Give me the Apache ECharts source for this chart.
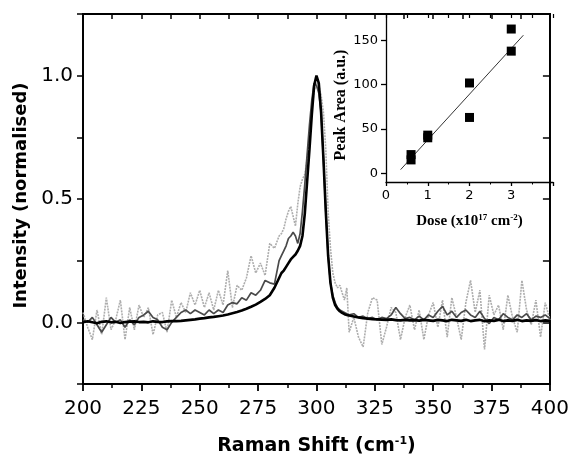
<!DOCTYPE html>
<html>
<head>
<meta charset="utf-8">
<script src="https://cdn.jsdelivr.net/npm/echarts@6/dist/echarts.min.js"></script>
<style>
  html, body { margin: 0; padding: 0; background: #fff; }
  #chart { width: 572px; height: 464px; }
</style>
</head>
<body>
<div id="chart"></div>
<script>
// Raman shift positions (cm-1): coarse steps on the baseline, 1 cm-1 steps across the peak
var shift = [
  200, 202, 204, 206, 208, 210, 212, 214, 216, 218, 220, 222, 224, 226, 228, 230, 232, 234, 236, 238,
  240, 242, 244, 246, 248, 250, 252, 254, 256, 258, 260, 262, 264, 266, 268, 270, 272, 274, 276, 278,
  280, 282, 284,
  285, 286, 287, 288, 289, 290, 291, 292, 293, 294, 295, 296, 297, 298, 299, 300, 301, 302, 303, 304,
  305, 306, 307, 308, 309, 310, 311, 312, 313,
  314, 316, 318, 320, 322, 324, 326, 328, 330, 332, 334, 336, 338, 340, 342, 344, 346, 348, 350, 352,
  354, 356, 358, 360, 362, 364, 366, 368, 370, 372, 374, 376, 378, 380, 382, 384, 386, 388, 390, 392,
  394, 396, 398, 400
]

// black thick spectrum
var intensityBlack = [
  0.000, 0.004, 0.000, -0.004, 0.002, 0.004, 0.000, 0.002, -0.003, 0.001, 0.003, 0.004, 0.001, 0.002, 0.000, 0.004, 0.002, 0.001, 0.004, 0.005,
  0.005, 0.006, 0.008, 0.010, 0.012, 0.015, 0.017, 0.020, 0.022, 0.025, 0.028, 0.032, 0.037, 0.042, 0.048, 0.055, 0.063, 0.072, 0.083, 0.095,
  0.110, 0.140, 0.180,
  0.200, 0.210, 0.225, 0.240, 0.255, 0.265, 0.275, 0.290, 0.310, 0.350, 0.440, 0.570, 0.700, 0.840, 0.960, 1.000, 0.970, 0.850, 0.660, 0.450,
  0.270, 0.160, 0.100, 0.070, 0.055, 0.045, 0.038, 0.033, 0.030,
  0.028, 0.024, 0.020, 0.017, 0.015, 0.013, 0.012, 0.011, 0.010, 0.012, 0.009, 0.008, 0.010, 0.008, 0.009, 0.007, 0.010, 0.008, 0.006, 0.010,
  0.008, 0.005, 0.010, 0.008, 0.006, 0.010, 0.005, 0.008, 0.010, 0.004, 0.008, 0.006, 0.010, 0.005, 0.008, 0.006, 0.010, 0.005, 0.008, 0.006,
  0.009, 0.005, 0.008, 0.006
]

// dark grey spectrum
var intensityDark = [
  0.010, 0.000, 0.020, -0.010, -0.040, -0.010, 0.020, 0.000, 0.010, -0.020, 0.010, -0.010, 0.020, 0.030, 0.045, 0.020, 0.010, -0.020, -0.030, 0.000,
  0.020, 0.040, 0.050, 0.035, 0.050, 0.040, 0.030, 0.050, 0.035, 0.050, 0.040, 0.070, 0.080, 0.075, 0.100, 0.090, 0.120, 0.110, 0.130, 0.170,
  0.160, 0.155, 0.250,
  0.270, 0.290, 0.310, 0.340, 0.350, 0.365, 0.350, 0.320, 0.360, 0.450, 0.560, 0.680, 0.800, 0.900, 0.970, 0.960, 0.930, 0.850, 0.660, 0.450,
  0.270, 0.160, 0.110, 0.080, 0.060, 0.050, 0.045, 0.040, 0.035,
  0.030, 0.035, 0.020, 0.025, 0.015, 0.020, 0.010, 0.020, 0.015, 0.030, 0.060, 0.035, 0.015, 0.020, 0.010, 0.025, 0.010, 0.030, 0.020, 0.045,
  0.065, 0.030, 0.045, 0.020, 0.040, 0.050, 0.030, 0.020, 0.045, 0.015, -0.005, 0.020, 0.010, 0.035, 0.020, 0.010, 0.030, 0.020, 0.035, 0.010,
  0.025, 0.020, 0.030, 0.015
]

// light grey (noisiest) spectrum
var intensityLight = [
  0.040, -0.020, -0.070, 0.050, -0.050, 0.100, -0.030, 0.010, 0.090, -0.070, 0.060, -0.030, 0.070, 0.020, 0.060, -0.050, 0.030, 0.040, -0.040, 0.090,
  0.020, 0.080, 0.040, 0.120, 0.070, 0.130, 0.060, 0.120, 0.050, 0.130, 0.070, 0.210, 0.060, 0.150, 0.130, 0.180, 0.270, 0.200, 0.240, 0.190,
  0.320, 0.300, 0.350,
  0.360, 0.380, 0.420, 0.450, 0.470, 0.430, 0.390, 0.480, 0.550, 0.580, 0.600, 0.660, 0.760, 0.860, 0.940, 0.970, 0.960, 0.920, 0.850, 0.700,
  0.450, 0.300, 0.200, 0.160, 0.140, 0.150, 0.120, 0.090, 0.140,
  -0.040, 0.020, -0.060, -0.100, 0.040, 0.100, 0.090, -0.090, -0.020, 0.060, 0.040, -0.070, 0.020, 0.070, -0.030, 0.050, -0.070, 0.030, 0.080, -0.020,
  0.090, -0.060, 0.100, 0.020, -0.070, 0.080, 0.170, 0.040, 0.130, -0.110, 0.110, 0.030, 0.070, -0.030, 0.110, 0.020, -0.040, 0.170, 0.050, -0.010,
  0.090, -0.060, 0.080, 0.010
]

// inset: peak area versus dose
var dose = [0.6, 0.6, 1.0, 1.0, 2.0, 2.0, 3.0, 3.0]
var peakArea = [21, 15, 43, 40, 102, 63, 163, 138]
// inset: ends of the fitted straight line
var fitDose = [0.35, 3.29]
var fitArea = [4, 156]

var mainTicksY = [0, 0.5, 1.0]
var insetTicksY = [0, 50, 100, 150]

function zip(xs, ys) {
  return xs.map(function (x, i) { return [x, ys[i]] })
}

var black = '#000'
var sans = 'DejaVu Sans'
var serif = 'Liberation Serif'

var chart = echarts.init(document.getElementById('chart'), null, { renderer: 'canvas' })

var option = {
  backgroundColor: '#fff',
  animation: false,
  grid: [
    { left: 83, top: 14, width: 470, height: 370, show: true, borderColor: black, borderWidth: 1.8, backgroundColor: 'transparent' },
    { left: 386, top: 14, width: 167, height: 168 }
  ],
  xAxis: [
    {
      gridIndex: 0, type: 'value', position: 'bottom', min: 200, max: 400, interval: 25,
      axisLine: { show: true, onZero: false, lineStyle: { color: black, width: 1.8 } },
      axisTick: { show: true, inside: false, length: 7, lineStyle: { color: black, width: 1.8 } },
      minorTick: { show: true, splitNumber: 2, length: 4, lineStyle: { color: black, width: 1.5 } },
      splitLine: { show: false },
      axisLabel: { color: black, fontFamily: sans, fontSize: 20, margin: 15 },
      name: 'Raman Shift (cm{sup|-1})',
      nameLocation: 'middle',
      nameGap: 52,
      nameTextStyle: {
        color: black, fontFamily: sans, fontWeight: 'bold', fontSize: 19,
        rich: { sup: { fontFamily: sans, fontWeight: 'bold', fontSize: 11, verticalAlign: 'top', padding: [0, 0, 10, 0] } }
      }
    },
    {
      gridIndex: 0, type: 'value', position: 'top', min: 200, max: 400, interval: 12.5,
      axisLine: { show: true, onZero: false, lineStyle: { color: black, width: 1.8 } },
      axisTick: { show: true, inside: true, length: 5, lineStyle: { color: black, width: 1.5 } },
      splitLine: { show: false },
      axisLabel: { show: false }
    },
    {
      gridIndex: 1, type: 'value', position: 'bottom', min: 0, max: 4, interval: 1,
      axisLine: { show: true, onZero: false, lineStyle: { color: black, width: 1.3 } },
      axisTick: { show: true, inside: false, length: 4, lineStyle: { color: black, width: 1.3 } },
      minorTick: { show: true, splitNumber: 2, length: 2.5, lineStyle: { color: black, width: 1 } },
      splitLine: { show: false },
      axisLabel: {
        color: black, fontFamily: sans, fontSize: 13, margin: 7,
        formatter: function (v) { return v === 4 ? '' : String(v) }
      },
      name: 'Dose (x10{sup|17} cm{sup|-2})',
      nameLocation: 'middle',
      nameGap: 31,
      nameTextStyle: {
        color: black, fontFamily: serif, fontWeight: 'bold', fontSize: 15,
        rich: { sup: { fontFamily: serif, fontWeight: 'bold', fontSize: 9, verticalAlign: 'top', padding: [0, 0, 8, 0] } }
      }
    },
    {
      gridIndex: 1, type: 'value', position: 'top', min: 0, max: 4, interval: 0.5,
      axisLine: { show: false, onZero: false },
      axisTick: { show: true, inside: true, length: 4, lineStyle: { color: black, width: 1.2 } },
      splitLine: { show: false },
      axisLabel: { show: false }
    }
  ],
  yAxis: [
    {
      gridIndex: 0, type: 'value', position: 'left', min: -0.25, max: 1.25, interval: 0.25,
      axisLine: { show: true, onZero: false, lineStyle: { color: black, width: 1.8 } },
      axisTick: { show: true, inside: false, length: 6, lineStyle: { color: black, width: 1.5 } },
      splitLine: { show: false },
      axisLabel: {
        color: black, fontFamily: sans, fontSize: 20, margin: 10,
        formatter: function (v) {
          return mainTicksY.indexOf(v) >= 0 ? v.toFixed(1) : ''
        }
      },
      name: 'Intensity (normalised)',
      nameLocation: 'middle',
      nameGap: 53,
      nameTextStyle: { color: black, fontFamily: sans, fontWeight: 'bold', fontSize: 18, padding: [0, 0, 0, 7] }
    },
    {
      gridIndex: 0, type: 'value', position: 'right', min: -0.25, max: 1.25, interval: 0.25,
      axisLine: { show: true, onZero: false, lineStyle: { color: black, width: 1.8 } },
      axisTick: { show: true, inside: true, length: 7, lineStyle: { color: black, width: 1.5 } },
      splitLine: { show: false },
      axisLabel: { show: false }
    },
    {
      gridIndex: 1, type: 'value', position: 'left', min: -10, max: 180,
      axisLine: { show: true, onZero: false, lineStyle: { color: black, width: 1.3 } },
      axisTick: { show: true, inside: false, length: 5, customValues: insetTicksY, lineStyle: { color: black, width: 1.3 } },
      splitLine: { show: false },
      axisLabel: { color: black, fontFamily: sans, fontSize: 13, margin: 8, customValues: insetTicksY },
      name: 'Peak Area (a.u.)',
      nameLocation: 'middle',
      nameGap: 35,
      nameTextStyle: { color: black, fontFamily: serif, fontWeight: 'bold', fontSize: 16, padding: [0, 14, 0, 0] }
    }
  ],
  series: [
    {
      type: 'line', xAxisIndex: 0, yAxisIndex: 0, showSymbol: false, symbol: 'none',
      data: zip(shift, intensityLight),
      lineStyle: { color: '#adadad', width: 1.6, type: [2, 1] },
      z: 2
    },
    {
      type: 'line', xAxisIndex: 0, yAxisIndex: 0, showSymbol: false, symbol: 'none',
      data: zip(shift, intensityDark),
      lineStyle: { color: '#4a4a4a', width: 1.7 },
      z: 3
    },
    {
      type: 'line', xAxisIndex: 0, yAxisIndex: 0, showSymbol: false, symbol: 'none',
      data: zip(shift, intensityBlack),
      lineStyle: { color: black, width: 2.6 },
      z: 4
    },
    {
      type: 'line', xAxisIndex: 2, yAxisIndex: 2, showSymbol: false, symbol: 'none',
      data: zip(fitDose, fitArea),
      lineStyle: { color: '#333', width: 1 },
      z: 5
    },
    {
      type: 'scatter', xAxisIndex: 2, yAxisIndex: 2, symbol: 'rect', symbolSize: 9,
      data: zip(dose, peakArea),
      itemStyle: { color: black, opacity: 1 },
      z: 6
    }
  ]
}

chart.setOption(option)
</script>
</body>
</html>
